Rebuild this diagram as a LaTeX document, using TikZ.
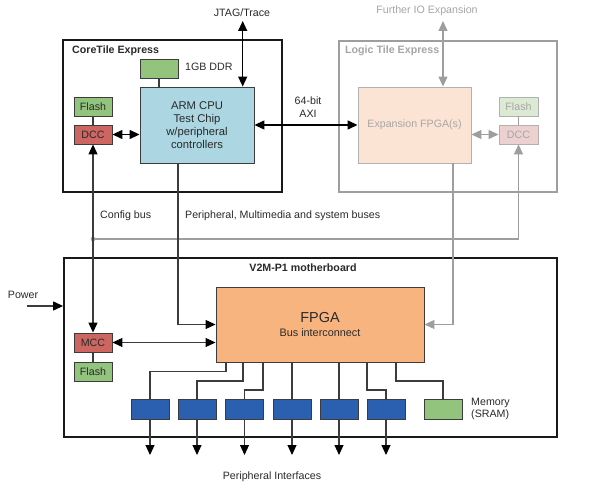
\documentclass[tikz,border=0pt]{standalone}
\usepackage{fontspec}
\setmainfont{Liberation Sans}
\usetikzlibrary{arrows.meta}
\definecolor{cgreen}{HTML}{93C47D}
\definecolor{cred}{HTML}{CD6660}
\definecolor{carm}{HTML}{ABD6E2}
\definecolor{cfpga}{HTML}{F8B47F}
\definecolor{cblue}{HTML}{2B5FAF}
\definecolor{cexp}{HTML}{FCE4D4}
\definecolor{clgreen}{HTML}{DCEAD4}
\definecolor{clred}{HTML}{EDD0D0}
\definecolor{cgray}{HTML}{9E9E9E}
\definecolor{cgtext}{HTML}{A6A6A6}
\definecolor{cline}{HTML}{3C3C3C}
\definecolor{ctext}{HTML}{2A2A2A}
\tikzset{
  txt/.style={font=\fontsize{10.7}{12.5}\selectfont, text=ctext, inner sep=0pt},
  ttl/.style={font=\fontsize{10.7}{12.5}\selectfont\bfseries, text=ctext, inner sep=0pt},
  frame/.style={draw=black!90, line width=1.8bp, inner sep=0pt},
  gframe/.style={draw=cgray, line width=1.8bp, inner sep=0pt},
  blk/.style={draw=cline, line width=0.9bp, inner sep=0pt, minimum width=38bp, minimum height=19bp, font=\fontsize{10.7}{12.5}\selectfont, text=ctext},
  gblk/.style={draw=cgray!80, line width=0.9bp, inner sep=0pt, minimum width=39bp, minimum height=19bp, font=\fontsize{10.7}{12.5}\selectfont, text=cgtext},
  conn/.style={draw=cline, line width=1.1bp},
  bconn/.style={draw=black, line width=1.4bp},
  gconn/.style={draw=cgray, line width=1.2bp},
  onearrow/.style={-{Triangle[length=10bp,width=9bp]}},
  twoarrow/.style={{Triangle[length=10bp,width=9bp]}-{Triangle[length=10bp,width=9bp]}},
  konearrow/.style={-{Triangle[length=10bp,width=9bp,color=black]}},
  ktwoarrow/.style={{Triangle[length=10bp,width=9bp,color=black]}-{Triangle[length=10bp,width=9bp,color=black]}},
}
\begin{document}
\begin{tikzpicture}[x=1bp,y=-1bp]
\useasboundingbox (0,0) rectangle (591,489);
\fill[white] (0,0) rectangle (591,489);

% ---------- CoreTile Express ----------
\node[frame, minimum width=219bp, minimum height=152bp] (ct) at (172.5,116) {};
\node[ttl, anchor=west] (cttitle) at (72,51) {CoreTile Express};
\node[blk, fill=cgreen] (ddr) at (159,68.5) {};
\node[txt, anchor=west] (ddrlabel) at (185,67) {1GB DDR};
\node[blk, fill=carm, minimum width=114bp, minimum height=76bp, align=center,
      font=\fontsize{11.3}{12.8}\selectfont] (arm) at (197,125)
      {ARM CPU\\Test Chip\\w/peripheral\\controllers};
\node[blk, fill=cgreen] (ctflash) at (93,106.5) {Flash};
\node[blk, fill=cred] (ctdcc) at (93,134.5) {DCC};
\node[txt] (jtag) at (242,13) {JTAG/Trace};
\coordinate (jtagtop) at (242.7,21);
\node[txt, align=center] (axi) at (308,107) {64-bit\\AXI};

% ---------- Logic Tile Express ----------
\node[gframe, minimum width=218bp, minimum height=151bp] (lt) at (448,116.5) {};
\node[ttl, anchor=west, text=cgtext] (lttitle) at (345,51) {Logic Tile Express};
\node[txt, text=cgtext] (further) at (427,11) {Further IO Expansion};
\coordinate (furthertop) at (443,21);
\node[gblk, fill=cexp, minimum width=113bp, minimum height=76bp] (exp) at (414.5,125) {Expansion FPGA(s)};
\node[gblk, fill=clgreen] (ltflash) at (518.5,106.5) {Flash};
\node[gblk, fill=clred] (ltdcc) at (518.5,134.5) {DCC};

% ---------- bus labels ----------
\node[txt, anchor=west] (cfg) at (100,216) {Config bus};
\node[txt, anchor=west] (pbus) at (185,216) {Peripheral, Multimedia and system buses};
\coordinate (dot) at (93,239);
\coordinate (dotend) at (518.5,239);

% ---------- V2M-P1 motherboard ----------
\node[frame, minimum width=493bp, minimum height=179bp] (mb) at (310.5,347.5) {};
\node[ttl] (mbtitle) at (303,268) {V2M-P1 motherboard};
\node[txt] (power) at (23,295) {Power};
\coordinate (powerstart) at (27,306);
\node[blk, fill=cfpga, minimum width=208bp, minimum height=75bp, align=center] (fpga) at (320,324.5)
   {{\fontsize{14.5}{16}\selectfont FPGA}\\[1bp]{\fontsize{10.9}{12}\selectfont Bus interconnect}};
\node[blk, fill=cred] (mcc) at (93,342.5) {MCC};
\node[blk, fill=cgreen] (mbflash) at (93,371.5) {Flash};

\foreach \i/\x in {1/150,2/197,3/244.5,4/292,5/339,6/386}{
  \node[blk, fill=cblue, minimum height=20bp] (p\i) at (\x,409) {};
  \coordinate (e\i) at (\x,455);
}
\node[blk, fill=cgreen, minimum height=20bp] (mem) at (443,409) {};
\node[txt, anchor=west, align=left] (memlabel) at (471,409) {Memory\\(SRAM)};
\node[txt] (pif) at (272,477) {Peripheral Interfaces};

% ---------- connectors: CoreTile ----------
\draw[conn] (ddr.south) -- (ddr.south |- arm.north);
\draw[conn] (ctflash) -- (ctdcc);
\draw[bconn, twoarrow] (ctdcc.east) -- (ctdcc.east -| arm.west);
\draw[bconn, twoarrow] (jtagtop) -- (jtagtop |- arm.north);
\draw[bconn, twoarrow] (arm.east) -- (arm.east -| exp.west);

% ---------- connectors: Logic Tile ----------
\draw[gconn, twoarrow] (furthertop) -- (furthertop |- exp.north);
\draw[gconn, twoarrow] (exp.east |- ltdcc) -- (ltdcc.west);
\draw[gconn] (ltflash) -- (ltdcc);
\draw[gconn] (dot) -- (dotend);
\draw[gconn, onearrow] (dotend) -- (ltdcc.south);
\fill[cgray] (dot) circle (2.3bp);
\draw[gconn, onearrow] (453,163) coordinate (expout) |- (fpga.east);

% ---------- connectors: buses ----------
\draw[conn, ktwoarrow] (ctdcc.south) -- (mcc.north);
\draw[conn, konearrow] (178,163) coordinate (armout) |- (fpga.west);
\draw[conn, ktwoarrow] (mcc.east) -- (mcc.east -| fpga.west);
\draw[conn] (mcc) -- (mbflash);
\draw[conn, konearrow] (powerstart) -- (powerstart -| mb.west);

% ---------- FPGA to peripherals ----------
\draw[conn] (226,362) |- (150,371.5) -- (p1.north);
\draw[conn] (243,362) |- (197,381) -- (p2.north);
\draw[conn] (263,362) |- (244.5,390) -- (p3.north);
\draw[conn] (p4.north |- fpga.south) -- (p4.north);
\draw[conn] (p5.north |- fpga.south) -- (p5.north);
\draw[conn] (367,362) |- (386,390) -- (p6.north);
\draw[conn] (396,362) |- (443,381) -- (mem.north);
\foreach \i in {1,...,6}{
  \draw[conn, konearrow] (p\i.south) -- (e\i);
}
\end{tikzpicture}
\end{document}
